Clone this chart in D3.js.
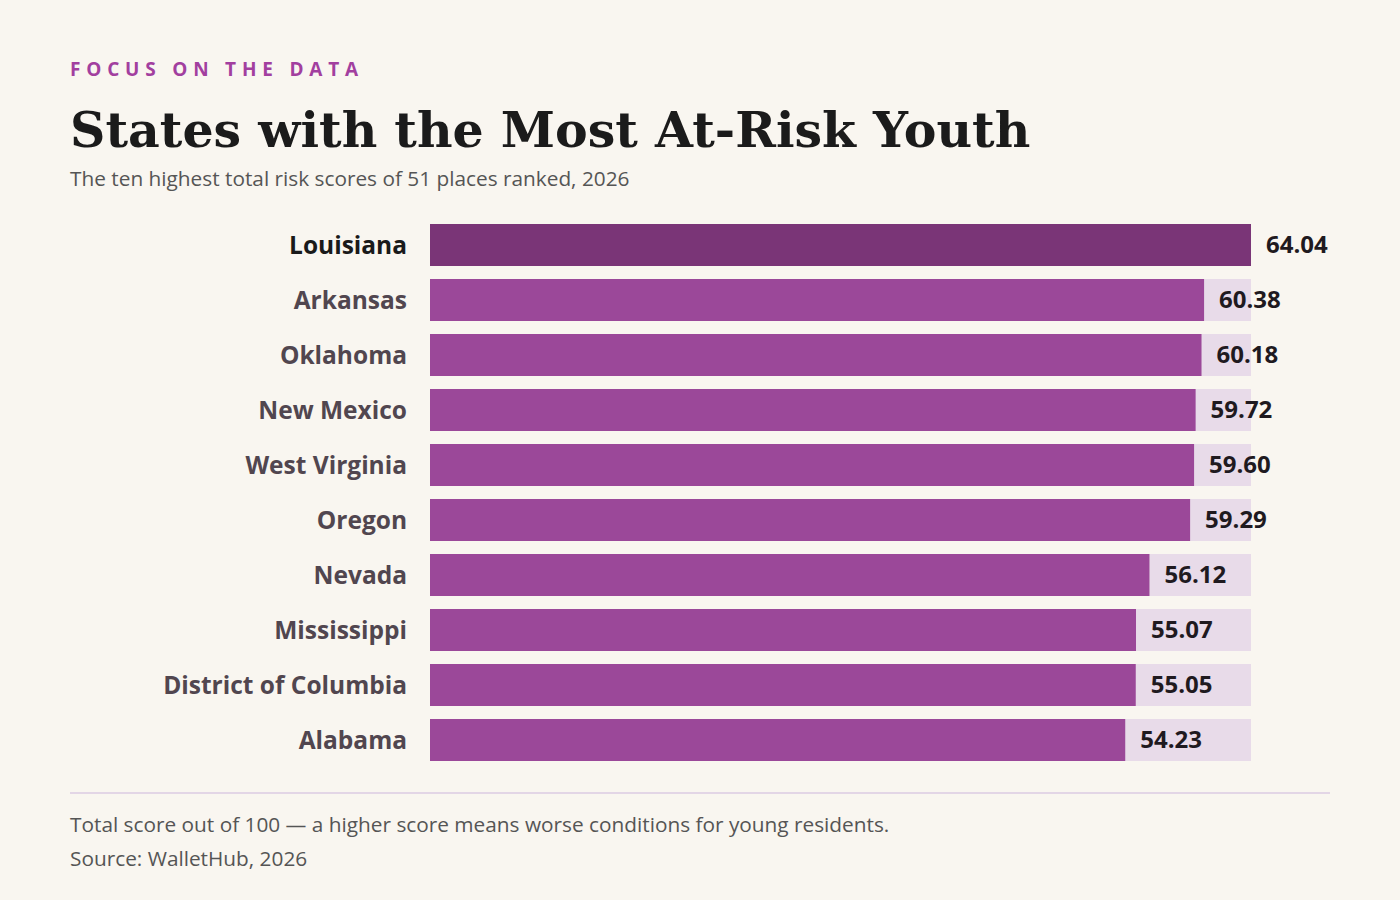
<!DOCTYPE html>
<html><head><meta charset="utf-8">
<script src="https://cdn.jsdelivr.net/npm/d3@7"></script>
<style>body{margin:0;background:#f9f6f0;}</style>
</head><body>
<svg id="c" width="1400" height="900"></svg>
<script>
const states = ["Louisiana","Arkansas","Oklahoma","New Mexico","West Virginia","Oregon","Nevada","Mississippi","District of Columbia","Alabama"];
const scores = [64.04,60.38,60.18,59.72,59.60,59.29,56.12,55.07,55.05,54.23];
const labels = ["64.04","60.38","60.18","59.72","59.60","59.29","56.12","55.07","55.05","54.23"];

const svg = d3.select("#c");
svg.append("rect").attr("width",1400).attr("height",900).attr("fill","#f9f6f0");
const sans = "'Segoe UI','Open Sans','Noto Sans',sans-serif";

svg.append("text").attr("x",70).attr("y",76).text("FOCUS ON THE DATA")
  .attr("font-family",sans).attr("font-size",19).attr("font-weight",700)
  .attr("letter-spacing",5.8).attr("fill","#a23f9f");
svg.append("text").attr("x",70).attr("y",147).text("States with the Most At-Risk Youth")
  .attr("font-family","Georgia,'DejaVu Serif',serif").attr("font-size",49).attr("font-weight",700).attr("fill","#1b1b1b");
svg.append("text").attr("x",70).attr("y",186).text("The ten highest total risk scores of 51 places ranked, 2026")
  .attr("font-family",sans).attr("font-size",20.8).attr("fill","#555");

const x = d3.scaleLinear().domain([0,64.04]).range([430,1251]);
const y = d3.scaleBand().domain(states).range([224,761]).paddingInner(13/55).paddingOuter(0);

const g = svg.append("g");
g.selectAll(".bg").data(states).join("rect")
  .attr("x",x(0)).attr("y",d=>y(d)).attr("width",x(64.04)-x(0)).attr("height",y.bandwidth())
  .attr("fill","#e8dbe9");
g.selectAll(".bar").data(scores).join("rect")
  .attr("x",x(0)).attr("y",(d,i)=>y(states[i])).attr("width",d=>x(d)-x(0)).attr("height",y.bandwidth())
  .attr("fill",(d,i)=>i===0?"#7a3577":"#9b4899");
g.selectAll(".val").data(scores).join("text")
  .attr("x",d=>x(d)+15).attr("y",(d,i)=>y(states[i])+y.bandwidth()/2).attr("dy","0.35em")
  .text((d,i)=>labels[i]).attr("font-family",sans).attr("font-size",24).attr("font-weight",700).attr("fill","#1f1a1f");
g.selectAll(".lab").data(states).join("text")
  .attr("x",407).attr("y",d=>y(d)+y.bandwidth()/2).attr("dy","0.35em").attr("text-anchor","end")
  .text(d=>d).attr("font-family",sans).attr("font-size",24.5).attr("font-weight",700)
  .attr("fill",(d,i)=>i===0?"#1a1a1a":"#51464f");

svg.append("line").attr("x1",70).attr("x2",1330).attr("y1",793).attr("y2",793).attr("stroke","#e3d6e6").attr("stroke-width",2);
svg.append("text").attr("x",70).attr("y",832).text("Total score out of 100 — a higher score means worse conditions for young residents.")
  .attr("font-family",sans).attr("font-size",20.8).attr("fill","#555");
svg.append("text").attr("x",70).attr("y",866).text("Source: WalletHub, 2026")
  .attr("font-family",sans).attr("font-size",20.8).attr("fill","#555");
</script>
</body></html>
